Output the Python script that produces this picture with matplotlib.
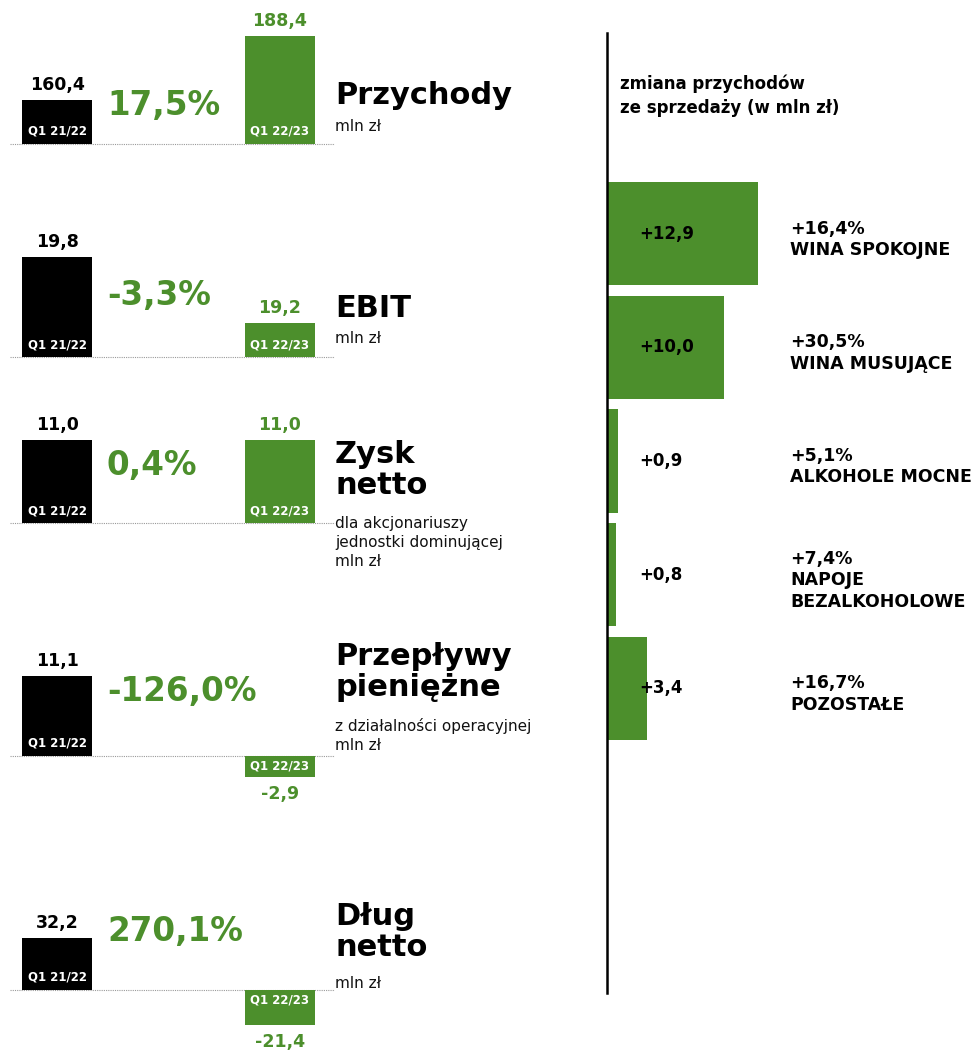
import matplotlib.pyplot as plt

W, H = 973, 1055
GREEN = "#4c8f2c"
plt.rcParams['font.family'] = ['DejaVu Sans']

# left panels
titles = ["Przychody", "EBIT", "Zysk\nnetto", "Przepływy\npieniężne", "Dług\nnetto"]
subtitles = ["mln zł", "mln zł", "dla akcjonariuszy\njednostki dominującej\nmln zł",
             "z działalności operacyjnej\nmln zł", "mln zł"]
prev_vals = [160.4, 19.8, 11.0, 11.1, 32.2]
curr_vals = [188.4, 19.2, 11.0, -2.9, -21.4]
changes = ["17,5%", "-3,3%", "0,4%", "-126,0%", "270,1%"]
periods = ["Q1 21/22", "Q1 22/23"]

# right panel
segments = ["WINA SPOKOJNE", "WINA MUSUJĄCE", "ALKOHOLE MOCNE", "NAPOJE\nBEZALKOHOLOWE", "POZOSTAŁE"]
seg_change = [12.9, 10.0, 0.9, 0.8, 3.4]
seg_pct = ["+16,4%", "+30,5%", "+5,1%", "+7,4%", "+16,7%"]


def fmt(v, sign=False):
    s = f"{v:+.1f}" if sign else f"{v:.1f}"
    return s.replace(".", ",")


def fx(x):
    return x / W


def fy(y):
    return 1 - y / H


fig = plt.figure(figsize=(W / 100, H / 100), dpi=100)

# layout per panel: baseline px, axis base value, px per unit, panel top/bottom px
baselines = [144, 357, 523, 756, 990]
bases = [141.1, 18.89, 0, 0, 0]
scales = [108 / 47.3, 100 / 0.91, 83 / 11.0, 80 / 11.1, 52 / 32.2]
spans = [(10, 150), (240, 365), (400, 530), (640, 800), (900, 1050)]
pct_y = [106, 295, 465, 691, 932]
title_top = [81, 294, 440, 642, 902]
sub_top = [119, 331, 516, 718, 976]

x_left, x_right = 10, 335
c0, c1, bw = 57, 280, 70
unit = c1 - c0

for i in range(5):
    top, bot = spans[i]
    ax = fig.add_axes([fx(x_left), fy(bot), (x_right - x_left) / W, (bot - top) / H])
    lo = bases[i] - (bot - baselines[i]) / scales[i]
    hi = bases[i] + (baselines[i] - top) / scales[i]
    ax.set_ylim(lo, hi)
    ax.set_xlim(-(c0 - x_left) / unit, 1 + (x_right - c1) / unit)
    ax.axis('off')
    ax.axhline(bases[i], color="#9a9a9a", ls=(0, (1, 1)), lw=0.8, zorder=0)
    vals = [prev_vals[i], curr_vals[i]]
    cols = ["black", GREEN]
    ax.bar([0, 1], [v - bases[i] for v in vals], bottom=bases[i], width=bw / unit,
           color=cols, zorder=2)
    for j, v in enumerate(vals):
        if v >= 0:
            ax.annotate(fmt(v), (j, v), xytext=(0, 4), textcoords='offset points',
                        ha='center', va='bottom', fontsize=12.5, fontweight='bold', color=cols[j])
            ax.annotate(periods[j], (j, bases[i]), xytext=(0, 9), textcoords='offset points',
                        ha='center', va='center', fontsize=8.5, fontweight='bold', color='white', zorder=3)
        else:
            ax.annotate(fmt(v), (j, v), xytext=(0, -6), textcoords='offset points',
                        ha='center', va='top', fontsize=12.5, fontweight='bold', color=cols[j])
            ax.annotate(periods[j], (j, 0), xytext=(0, -7), textcoords='offset points',
                        ha='center', va='center', fontsize=8.5, fontweight='bold', color='white', zorder=3)
    fig.text(fx(107), fy(pct_y[i]), changes[i], fontsize=23.5, fontweight='bold', color=GREEN,
             ha='left', va='center')
    fig.text(fx(335), fy(title_top[i]), titles[i], fontsize=22, fontweight='bold', color='black',
             ha='left', va='top', linespacing=1.1)
    fig.text(fx(335), fy(sub_top[i]), subtitles[i], fontsize=11, color='#111111',
             ha='left', va='top', linespacing=1.35)

# divider line
fig.add_artist(plt.Line2D([fx(607), fx(607)], [fy(33), fy(993)], color='black', lw=1.8))

fig.text(fx(620), fy(96), "zmiana przychodów\nze sprzedaży (w mln zł)", fontsize=12,
         fontweight='bold', ha='left', va='center', linespacing=1.45)

# right bar chart
rscale = 151 / 12.9
r_top, r_bot = 177, 745
axr = fig.add_axes([fx(607), fy(r_bot), (W - 607) / W, (r_bot - r_top) / H])
axr.set_xlim(0, (W - 607) / rscale)
axr.set_ylim(4.5, -0.5)
axr.axis('off')
ypos = list(range(len(seg_change)))
axr.barh(ypos, seg_change, height=0.91, color=GREEN)
for k, v in enumerate(seg_change):
    axr.annotate(fmt(v, sign=True), (0, k), xytext=(23, 0), textcoords='offset points',
                 ha='left', va='center', fontsize=12, fontweight='bold', color='black')
    axr.annotate(seg_pct[k] + "\n" + segments[k], (0, k), xytext=(132, -4), textcoords='offset points',
                 ha='left', va='center', fontsize=12.5, fontweight='bold', color='black', linespacing=1.25)

fig.savefig("out.png", dpi=100, facecolor='white')
